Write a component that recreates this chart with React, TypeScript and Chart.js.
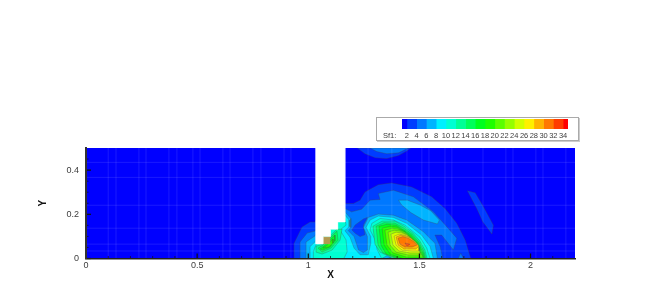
import React, { useEffect, useRef } from "react";
import { Chart, registerables } from "chart.js";

Chart.register(...registerables);

type P = [number, number];

const BAND_COLORS = [
  "rgb(0,0,255)", "rgb(0,60,255)", "rgb(0,120,255)", "rgb(0,180,255)", "rgb(0,240,255)", "rgb(0,255,210)",
  "rgb(0,255,150)", "rgb(0,255,90)", "rgb(0,255,30)", "rgb(30,255,0)", "rgb(90,255,0)", "rgb(150,255,0)",
  "rgb(210,255,0)", "rgb(255,240,0)", "rgb(255,180,0)", "rgb(255,120,0)", "rgb(255,60,0)", "rgb(255,0,0)",
];
const BAND_EDGES = [1, 2, 4, 6, 8, 10, 12, 14, 16, 18, 20, 22, 24, 26, 28, 30, 32, 34, 35];
const LEGEND_TICKS = [2, 4, 6, 8, 10, 12, 14, 16, 18, 20, 22, 24, 26, 28, 30, 32, 34];

const X_MAJOR = [0, 0.5, 1, 1.5, 2];
const X_MINOR = [0.1, 0.2, 0.3, 0.4, 0.6, 0.7, 0.8, 0.9, 1.1, 1.2, 1.3, 1.4, 1.6, 1.7, 1.8, 1.9, 2.1];
const Y_MAJOR = [0, 0.2, 0.4];
const Y_MINOR = [0.05, 0.1, 0.15, 0.25, 0.3, 0.35, 0.45];

const MESH_X = [0.1, 0.135, 0.238, 0.27, 0.373, 0.409, 0.481, 0.513, 0.616, 0.648, 0.751, 0.787, 0.891, 0.922, 1.269, 1.376, 1.444, 1.511, 1.543, 1.615, 1.646, 1.786, 1.889, 1.921, 2.024, 2.056, 2.159];
const MESH_Y = [0.435, 0.367, 0.241, 0.137, 0.065, 0.034];

const DOMAIN: P[] = [[0, 0], [2.2, 0], [2.2, 0.5], [0, 0.5]];
const NOTCH: P[] = [[1.033, 0.5], [1.165, 0.5], [1.165, 0.165], [1.132, 0.165], [1.132, 0.132], [1.099, 0.132], [1.099, 0.099], [1.066, 0.099], [1.066, 0.066], [1.033, 0.066]];
const TAN_CELL: P[] = [[1.066, 0.066], [1.099, 0.066], [1.099, 0.099], [1.066, 0.099]];

const BAND1_TOP: P[] = [[1.221, 0.5], [1.461, 0.5], [1.443, 0.486], [1.406, 0.466], [1.353, 0.452], [1.301, 0.456], [1.255, 0.474]];
const BAND2_TOP: P[] = [[1.278, 0.5], [1.451, 0.5], [1.406, 0.478], [1.353, 0.474], [1.308, 0.484]];
const BAND1_LOBE: P[] = [[1.716, 0.306], [1.751, 0.297], [1.788, 0.234], [1.833, 0.151], [1.826, 0.111], [1.785, 0.166], [1.758, 0.226]];
const BAND1_MAIN: P[] = [[0.936, 0], [0.936, 0.069], [0.972, 0.142], [1.008, 0.165], [1.03, 0.165], [1.1, 0.3], [1.165, 0.249], [1.203, 0.249], [1.233, 0.264], [1.255, 0.301], [1.315, 0.334], [1.375, 0.342], [1.465, 0.324], [1.555, 0.279], [1.615, 0.226], [1.668, 0.159], [1.706, 0.084], [1.731, 0]];
const BAND2_MAIN: P[] = [[0.963, 0], [0.963, 0.075], [0.995, 0.115], [1.03, 0.124], [1.1, 0.2], [1.165, 0.226], [1.195, 0.211], [1.24, 0.223], [1.278, 0.264], [1.323, 0.267], [1.315, 0.294], [1.383, 0.309], [1.473, 0.279], [1.563, 0.211], [1.63, 0.136], [1.668, 0.092], [1.653, 0.039], [1.6, 0.106], [1.57, 0.106], [1.593, 0.054], [1.605, 0]];
const BAND2_BLIP: P[] = [[1.675, 0], [1.686, 0.024], [1.698, 0]];
const BAND1_POCKET: P[] = [[1.196, 0.129], [1.211, 0.152], [1.248, 0.179], [1.266, 0.186], [1.248, 0.152], [1.255, 0.107], [1.233, 0.099], [1.211, 0.114]];
const BAND3_BLOB: P[] = [[1.406, 0.264], [1.446, 0.264], [1.503, 0.242], [1.551, 0.216], [1.59, 0.174], [1.581, 0.156], [1.518, 0.174], [1.461, 0.208], [1.42, 0.242]];
const BAND3_MAIN: P[] = [[0.99, 0], [0.99, 0.075], [1.03, 0.102], [1.1, 0.2], [1.165, 0.211], [1.191, 0.181], [1.191, 0.141], [1.18, 0.126], [1.206, 0.099], [1.226, 0.039], [1.248, 0.027], [1.266, 0.039], [1.266, 0.099], [1.248, 0.141], [1.27, 0.186], [1.315, 0.201], [1.383, 0.196], [1.443, 0.174], [1.518, 0.121], [1.57, 0.069], [1.581, 0]];
const BAND4_MAIN: P[] = [[1.008, 0], [1.008, 0.054], [1.03, 0.075], [1.1, 0.2], [1.165, 0.196], [1.184, 0.174], [1.184, 0.144], [1.165, 0.126], [1.188, 0.096], [1.206, 0.047], [1.233, 0.017], [1.27, 0.017], [1.281, 0.069], [1.281, 0.099], [1.26, 0.141], [1.278, 0.174], [1.315, 0.192], [1.383, 0.186], [1.443, 0.159], [1.51, 0.106], [1.548, 0.054], [1.563, 0]];
const BAND5_LEFT: P[] = [[1.023, 0], [1.023, 0.032], [1.03, 0.051], [1.1, 0.2], [1.165, 0.181], [1.17, 0.151], [1.143, 0.129], [1.17, 0.084], [1.175, 0.03], [1.16, 0]];
const BAND5_PEAK: P[] = [[1.278, 0.129], [1.286, 0.159], [1.323, 0.181], [1.383, 0.174], [1.435, 0.151], [1.503, 0.096], [1.533, 0.047], [1.548, 0], [1.33, 0], [1.31, 0.04], [1.301, 0.084]];
const BAND3_FLOOR: P[] = [[1.33, 0], [1.36, 0.015], [1.39, 0.017], [1.42, 0]];
const BAND2_FLOOR: P[] = [[1.353, 0], [1.383, 0.009], [1.406, 0]];

const BAND6_LEFT: P[] = [[1.035, 0.056], [1.066, 0.065], [1.098, 0.101], [1.129, 0.133], [1.152, 0.133], [1.143, 0.083], [1.107, 0.038], [1.062, 0.02], [1.035, 0.029]];
const BAND7_LEFT: P[] = [[1.044, 0.047], [1.066, 0.061], [1.102, 0.097], [1.129, 0.124], [1.134, 0.083], [1.102, 0.047], [1.062, 0.029]];
const BAND8_LEFT: P[] = [[1.053, 0.043], [1.071, 0.056], [1.102, 0.088], [1.12, 0.106], [1.12, 0.079], [1.098, 0.052], [1.066, 0.038]];
const BAND9_LEFT: P[] = [[1.066, 0.047], [1.08, 0.056], [1.102, 0.079], [1.111, 0.088], [1.111, 0.07], [1.093, 0.052]];

const BAND6_PEAK: P[] = [[1.291, 0.146], [1.332, 0.169], [1.39, 0.169], [1.431, 0.146], [1.471, 0.115], [1.502, 0.079], [1.525, 0.038], [1.534, 0], [1.381, 0], [1.323, 0.029], [1.3, 0.065]];
const BAND7_PEAK: P[] = [[1.305, 0.146], [1.341, 0.162], [1.39, 0.16], [1.431, 0.137], [1.467, 0.11], [1.498, 0.074], [1.52, 0.034], [1.529, 0], [1.395, 0], [1.336, 0.025], [1.314, 0.061]];
const BAND8_PEAK: P[] = [[1.318, 0.146], [1.354, 0.155], [1.395, 0.151], [1.431, 0.128], [1.462, 0.106], [1.494, 0.07], [1.516, 0.029], [1.525, 0], [1.408, 0], [1.35, 0.02], [1.327, 0.061]];
const BAND9_PEAK: P[] = [[1.332, 0.137], [1.368, 0.146], [1.399, 0.142], [1.431, 0.124], [1.458, 0.101], [1.489, 0.07], [1.511, 0.025], [1.52, 0], [1.426, 0], [1.368, 0.02], [1.341, 0.061]];
const BAND10_PEAK: P[] = [[1.345, 0.128], [1.377, 0.137], [1.404, 0.133], [1.435, 0.119], [1.458, 0.097], [1.489, 0.065], [1.507, 0.02], [1.516, 0.007], [1.44, 0.007], [1.381, 0.025], [1.354, 0.061]];
const BAND11_PEAK: P[] = [[1.359, 0.119], [1.386, 0.128], [1.413, 0.124], [1.44, 0.11], [1.462, 0.092], [1.489, 0.061], [1.507, 0.016], [1.449, 0.016], [1.395, 0.029], [1.368, 0.061]];
const BAND12_PEAK: P[] = [[1.372, 0.11], [1.395, 0.119], [1.422, 0.115], [1.444, 0.106], [1.467, 0.088], [1.494, 0.056], [1.502, 0.025], [1.458, 0.025], [1.408, 0.034], [1.381, 0.061]];
const BAND13_PEAK: P[] = [[1.386, 0.101], [1.408, 0.11], [1.431, 0.106], [1.453, 0.097], [1.475, 0.079], [1.498, 0.052], [1.498, 0.034], [1.467, 0.034], [1.422, 0.038], [1.395, 0.061]];
const BAND14_PEAK: P[] = [[1.395, 0.097], [1.417, 0.106], [1.44, 0.101], [1.462, 0.092], [1.48, 0.077], [1.498, 0.056], [1.484, 0.043], [1.431, 0.043], [1.404, 0.061]];
const BAND15_PEAK: P[] = [[1.404, 0.092], [1.426, 0.099], [1.449, 0.092], [1.471, 0.079], [1.489, 0.061], [1.467, 0.052], [1.435, 0.052], [1.413, 0.065]];
const BAND16_PEAK: P[] = [[1.435, 0.07], [1.458, 0.065], [1.444, 0.056]];

// paint order, low to high
const CONTOUR_LAYERS: [P[], number][] = [
  [BAND1_TOP, 1], [BAND2_TOP, 2], [BAND1_LOBE, 1], [BAND1_MAIN, 1], [BAND2_MAIN, 2], [BAND2_BLIP, 2],
  [BAND1_POCKET, 1], [BAND3_BLOB, 3], [BAND3_MAIN, 3], [BAND4_MAIN, 4], [BAND5_LEFT, 5], [BAND5_PEAK, 5],
  [BAND3_FLOOR, 3], [BAND2_FLOOR, 2],
  [BAND6_LEFT, 6], [BAND7_LEFT, 7], [BAND8_LEFT, 8], [BAND9_LEFT, 9],
  [BAND6_PEAK, 6], [BAND7_PEAK, 7], [BAND8_PEAK, 8], [BAND9_PEAK, 9], [BAND10_PEAK, 10],
  [BAND11_PEAK, 11], [BAND12_PEAK, 12], [BAND13_PEAK, 13], [BAND14_PEAK, 14], [BAND15_PEAK, 15], [BAND16_PEAK, 16],
];

const FONT = "'Liberation Sans', Arial, sans-serif";
const TEXT = "#3c3c3c";

const inwardTicks = {
  id: "inwardTicks",
  afterDatasetsDraw(chart: any) {
    const { ctx, scales, chartArea } = chart;
    const x = scales.x;
    const y = scales.y;
    ctx.save();
    ctx.strokeStyle = "#111";
    const drawX = (vals: number[], len: number, w: number) => {
      ctx.lineWidth = w;
      vals.forEach((v) => {
        const p = x.getPixelForValue(v);
        ctx.beginPath();
        ctx.moveTo(p, chartArea.bottom);
        ctx.lineTo(p, chartArea.bottom - len);
        ctx.stroke();
      });
    };
    const drawY = (vals: number[], len: number, w: number) => {
      ctx.lineWidth = w;
      vals.forEach((v) => {
        const p = y.getPixelForValue(v);
        ctx.beginPath();
        ctx.moveTo(chartArea.left, p);
        ctx.lineTo(chartArea.left + len, p);
        ctx.stroke();
      });
    };
    drawX(X_MAJOR, 5, 1.2);
    drawX(X_MINOR, 2.5, 0.7);
    drawY(Y_MAJOR, 5, 1.2);
    drawY(Y_MINOR, 2.5, 0.7);
    ctx.restore();
  },
};

const polygon = (pts: P[], fillColor: string, line: string, width: number) => ({
  data: [...pts, pts[0]].map(([x, y]) => ({ x, y })),
  showLine: true,
  pointRadius: 0,
  tension: 0,
  fill: "shape",
  backgroundColor: fillColor,
  borderColor: line,
  borderWidth: width,
});

const segment = (a: P, b: P) => ({
  data: [a, b].map(([x, y]) => ({ x, y })),
  showLine: true,
  pointRadius: 0,
  fill: false,
  borderColor: "rgba(255,255,255,0.1)",
  borderWidth: 1,
});

export default function App() {
  const mainRef = useRef<HTMLCanvasElement>(null);
  const legendRef = useRef<HTMLCanvasElement>(null);

  useEffect(() => {
    const layers: any[] = [
      polygon(DOMAIN, BAND_COLORS[0], BAND_COLORS[0], 0),
      ...CONTOUR_LAYERS.map(([pts, b]) => polygon(pts, BAND_COLORS[b], "rgba(70,70,70,0.5)", 0.6)),
      ...MESH_X.map((v) => segment([v, 0], [v, 0.5])),
      ...MESH_Y.map((v) => segment([0, v], [2.2, v])),
      polygon(TAN_CELL, "#b09a50", "#b09a50", 0),
      polygon(NOTCH, "#ffffff", "#ffffff", 0.5),
    ];
    const datasets = layers.map((d, i) => ({ ...d, order: layers.length - i }));

    const main = new Chart(mainRef.current!, {
      type: "scatter",
      data: { datasets },
      plugins: [inwardTicks],
      options: {
        animation: false,
        responsive: false,
        layout: { padding: { left: 37, right: 79, top: 148, bottom: 11 } },
        plugins: { legend: { display: false }, tooltip: { enabled: false } },
        scales: {
          x: {
            type: "linear",
            min: 0,
            max: 2.2,
            afterBuildTicks: (s: any) => { s.ticks = X_MAJOR.map((value) => ({ value })); },
            afterFit: (s: any) => { s.height = 22.5; },
            grid: { display: false, drawTicks: false },
            border: { display: true, color: "#222", width: 1.5, z: 2 },
            ticks: { color: TEXT, font: { family: FONT, size: 9 }, padding: 2, maxRotation: 0, autoSkip: false, callback: (v: any) => String(v) },
            title: { display: true, text: "X", color: "#111", font: { family: FONT, size: 10, weight: "bold" }, padding: 0 },
          },
          y: {
            type: "linear",
            min: 0,
            max: 0.5,
            afterBuildTicks: (s: any) => { s.ticks = Y_MAJOR.map((value) => ({ value })); },
            afterFit: (s: any) => { s.width = 49; },
            grid: { display: false, drawTicks: false },
            border: { display: true, color: "#333", width: 2, z: 2 },
            ticks: { color: TEXT, font: { family: FONT, size: 9 }, padding: 7, callback: (v: any) => String(v) },
            title: { display: true, text: "Y", color: "#111", font: { family: FONT, size: 10, weight: "bold" }, padding: 0 },
          },
        },
      } as any,
    });

    const legend = new Chart(legendRef.current!, {
      type: "bar",
      data: {
        labels: ["Sf1"],
        datasets: BAND_COLORS.map((c, i) => ({
          data: [[BAND_EDGES[i], BAND_EDGES[i + 1]]],
          backgroundColor: c,
          borderWidth: 0,
          barPercentage: 1,
          categoryPercentage: 1,
          grouped: false,
        })),
      } as any,
      options: {
        animation: false,
        responsive: false,
        indexAxis: "y",
        layout: { padding: { left: 26, right: 6, top: 2, bottom: 0 } },
        plugins: { legend: { display: false }, tooltip: { enabled: false } },
        scales: {
          y: { display: false, stacked: false },
          x: {
            type: "linear",
            min: 1,
            max: 35,
            afterBuildTicks: (s: any) => { s.ticks = LEGEND_TICKS.map((value) => ({ value })); },
            afterFit: (s: any) => { s.height = 11; },
            grid: { display: false, drawTicks: false },
            border: { display: false },
            ticks: { color: TEXT, font: { family: FONT, size: 7.5 }, padding: 2, maxRotation: 0, autoSkip: false, callback: (v: any) => String(v) },
          },
        },
      } as any,
    });

    return () => {
      main.destroy();
      legend.destroy();
    };
  }, []);

  return (
    <div style={{ position: "absolute", left: 0, top: 0, width: 654, height: 292, background: "#fff", overflow: "hidden" }}>
      <canvas ref={mainRef} width={654} height={292} style={{ position: "absolute", left: 0, top: 0, display: "block" }} />
      <div style={{ position: "absolute", left: 376, top: 117, width: 201, height: 22, background: "#fff", border: "1px solid #aaa", boxShadow: "1px 1px 0 #ccc" }} />
      <canvas ref={legendRef} width={198} height={23} style={{ position: "absolute", left: 376, top: 117, display: "block" }} />
      <div style={{ position: "absolute", left: 383, top: 131, fontFamily: FONT, fontSize: 7.5, lineHeight: "9px", color: TEXT }}>Sf1:</div>
    </div>
  );
}
